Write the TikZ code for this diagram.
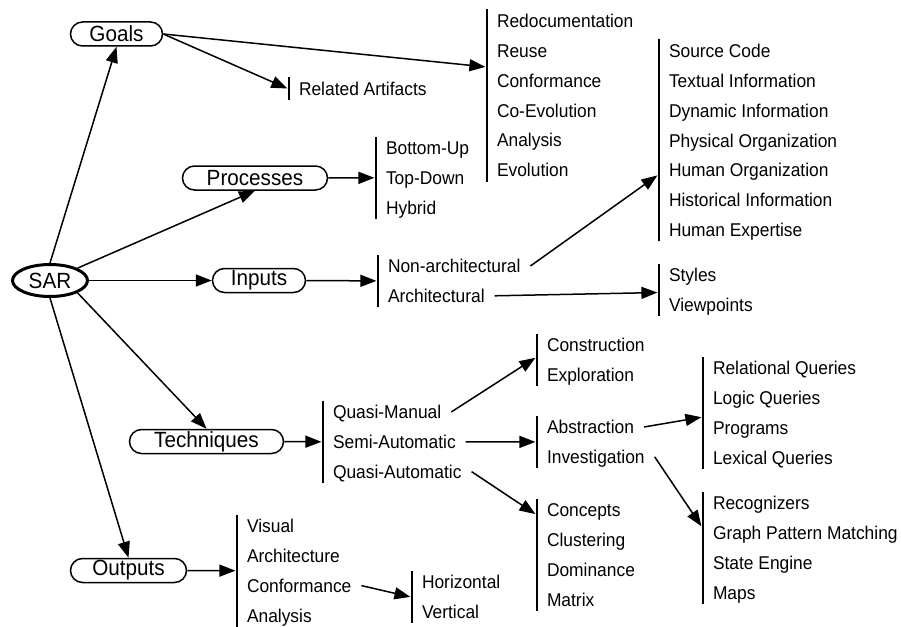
\documentclass[tikz,border=0pt]{standalone}
\usepackage{fontspec}
\usetikzlibrary{arrows.meta,shapes.geometric,calc}
\newfontfamily\diagfont{Liberation Sans}[FakeStretch=0.94]
\newcommand\entryfont{\diagfont\fontsize{18.5}{22}\selectfont}
\newcommand\ovalfont{\diagfont\fontsize{22}{26}\selectfont}

% A column of entries with a vertical bar on its left:
% #1 name, #2 bar x, #3 y of first entry, #4 number of entries, #5 entries
\newcommand\entrylist[5]{%
  \node[barline, minimum height={(#4-1)*29.8pt+23pt}] (#1) at (#2, {#3+(#4-1)*14.9}) {};
  \foreach \txt [count=\k] in {#5}
    \node[entry] (#1-\k) at (#2, {#3+(\k-1)*29.8}) {\txt};
}

\tikzset{
  barline/.style={rectangle, fill=black, draw=none, inner sep=0pt, minimum width=2.8pt},
  entry/.style={anchor=west, inner sep=0pt, outer xsep=10pt, outer ysep=0pt,
                text height=13.2pt, text depth=0pt, font=\entryfont},
  oval/.style={draw, line width=1.5pt, rounded corners=12pt, minimum height=24pt,
               inner sep=0pt, font=\ovalfont},
  root/.style={ellipse, draw, line width=3pt, minimum width=75pt, minimum height=32pt,
               inner sep=0pt, font=\ovalfont},
  link/.style={line width=1.5pt, -{Triangle[length=16pt,width=12pt]}},
}

\begin{document}
\begin{tikzpicture}[x=1pt, y=-1pt]
\useasboundingbox (0,0) rectangle (901,626);

% main categories
\node[root] (sar) at (50,280.5) {SAR};
\node[oval, minimum width=92pt]  (goals)      at (116.5,34)  {Goals};
\node[oval, minimum width=145pt] (processes)  at (255,178)   {Processes};
\node[oval, minimum width=93pt]  (inputs)     at (259,280.5) {Inputs};
\node[oval, minimum width=154pt] (techniques) at (206.5,441.5) {Techniques};
\node[oval, minimum width=116pt] (outputs)    at (128.5,570.5) {Outputs};

% entry columns
\entrylist{goalslist}{487}{21}{6}{Redocumentation,Reuse,Conformance,Co-Evolution,Analysis,Evolution}
\entrylist{artifacts}{289}{88.5}{1}{Related Artifacts}
\entrylist{processlist}{376}{148}{3}{Bottom-Up,Top-Down,Hybrid}
\entrylist{inputlist}{378}{266}{2}{Non-architectural,Architectural}
\entrylist{sourcelist}{659}{51}{7}{Source Code,Textual Information,Dynamic Information,Physical Organization,Human Organization,Historical Information,Human Expertise}
\entrylist{stylelist}{659}{275}{2}{Styles,Viewpoints}
\entrylist{techlist}{323}{412}{3}{Quasi-Manual,Semi-Automatic,Quasi-Automatic}
\entrylist{constrlist}{537}{345}{2}{Construction,Exploration}
\entrylist{abstrlist}{537}{427}{2}{Abstraction,Investigation}
\entrylist{conceptlist}{537}{510}{4}{Concepts,Clustering,Dominance,Matrix}
\entrylist{querylist}{703}{368}{4}{Relational Queries,Logic Queries,Programs,Lexical Queries}
\entrylist{recoglist}{703}{503}{4}{Recognizers,Graph Pattern Matching,State Engine,Maps}
\entrylist{outputlist}{237}{526}{4}{Visual,Architecture,Conformance,Analysis}
\entrylist{horizlist}{412}{582}{2}{Horizontal,Vertical}

% connectors from the root
\draw[link] (sar.north) -- (goals.south);
\draw[link] (sar.north east) -- (processes.south);
\draw[link] (sar.east) -- (inputs.west);
\draw[link] (sar.south east) -- (techniques.north);
\draw[link] (sar.south) -- (outputs.north);

% connectors from the categories
\draw[link] (goals.east) -- ($(goalslist.north west)!0.334!(goalslist.south west)$);
\draw[link] (goals.east) -- (artifacts.west);
\draw[link] (processes.east) -- (processlist.west);
\draw[link] (inputs.east) -- (inputlist.west);
\draw[link] (techniques.east) -- (techlist.west);
\draw[link] (outputs.east) -- (outputlist.west);

% connectors between entries
\draw[link] (inputlist-1.east) -- ($(sourcelist.north west)!0.673!(sourcelist.south west)$);
\draw[link] (inputlist-2.east) -- ($(stylelist.north west)!0.55!(stylelist.south west)$);
\draw[link] (techlist-1.east) -- ($(constrlist.north west)!0.46!(constrlist.south west)$);
\draw[link] (techlist-2.east) -- (abstrlist.west);
\draw[link] (techlist-3.east) -- ($(conceptlist.north west)!0.14!(conceptlist.south west)$);
\draw[link] (abstrlist-1.east) -- ($(querylist.north west)!0.54!(querylist.south west)$);
\draw[link] (abstrlist-2.east) -- ($(recoglist.north west)!0.31!(recoglist.south west)$);
\draw[link] (outputlist-3.east) -- (horizlist.west);
\end{tikzpicture}
\end{document}
